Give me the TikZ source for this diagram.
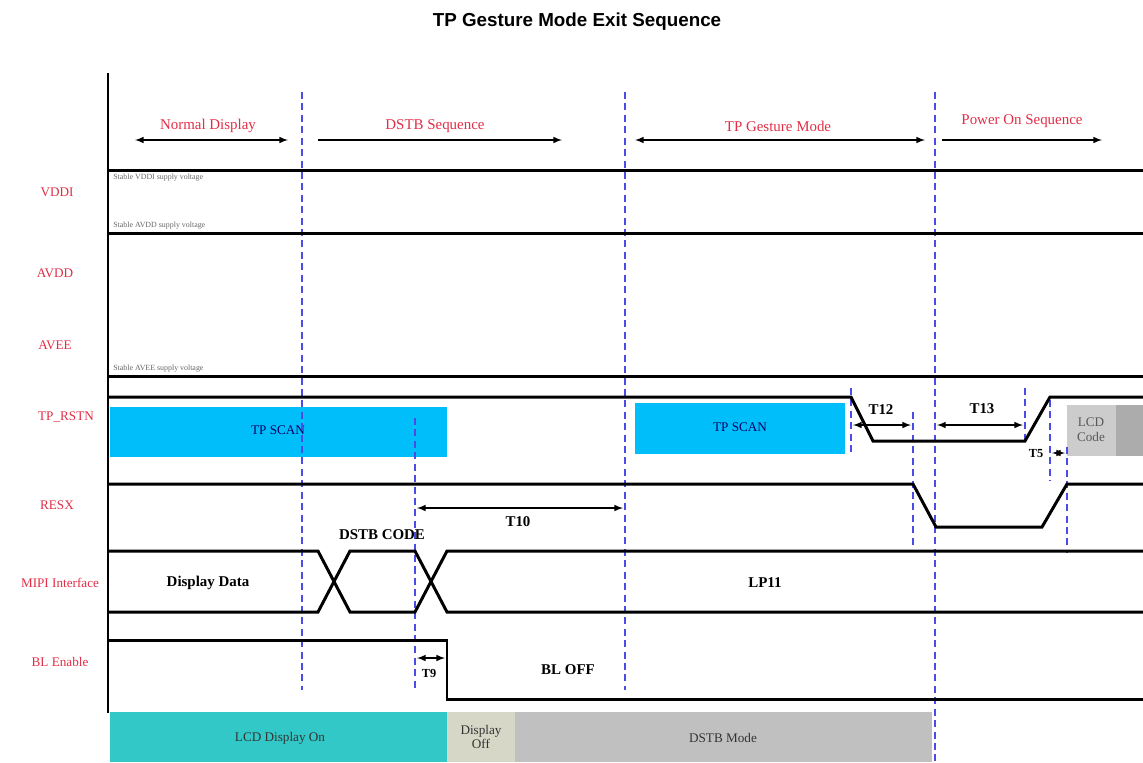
\documentclass[tikz,border=0pt]{standalone}
\usepackage{fontspec}
\setmainfont{Liberation Serif}
\newfontfamily\titlefont{Liberation Sans}
\usetikzlibrary{arrows}
\definecolor{sigred}{RGB}{225,45,70}
\definecolor{scanblue}{RGB}{0,190,250}
\definecolor{dashblue}{RGB}{75,75,232}
\definecolor{lcdteal}{RGB}{50,200,200}
\definecolor{offbeige}{RGB}{215,215,200}
\definecolor{modegray}{RGB}{192,192,192}
\tikzset{
  sig/.style={line width=1.7pt},
  guide/.style={dash pattern=on 4pt off 2.5pt, color=dashblue, line width=0.6pt},
  siglabel/.style={text=sigred, font=\fontsize{7.5}{9}\selectfont},
  phase/.style={text=sigred, font=\fontsize{8.5}{10}\selectfont},
  timing/.style={font=\bfseries\fontsize{8.5}{10}\selectfont},
  supply/.style={text=black!60, font=\fontsize{4.5}{5}\selectfont, anchor=west, inner sep=0pt},
  boxtext/.style={text=black!80, font=\fontsize{7.5}{8.5}\selectfont, align=center},
  span/.style={latex-latex, line width=0.7pt},
}
\begin{document}
\begin{tikzpicture}[x=0.02cm,y=-0.02cm]
\useasboundingbox (0,0) rectangle (1143,762);
\node[font=\titlefont\bfseries\fontsize{10.7}{13}\selectfont] (title) at (577,22) {TP Gesture Mode Exit Sequence};
% bottom state bars
\fill[lcdteal] (110,712) rectangle (447,762);
\fill[offbeige] (447,712) rectangle (515,762);
\fill[modegray] (515,712) rectangle (932,762);
\node[boxtext] (lcdon) at (280,738) {LCD Display On};
\node[boxtext] (dispoff) at (481,737) {Display\\Off};
\node[boxtext] (dstbmode) at (723,738) {DSTB Mode};
% TP scan and LCD code boxes
\fill[scanblue] (110,407) rectangle (447,457);
\fill[scanblue] (635,403) rectangle (845,454);
\fill[gray!40] (1067,405) rectangle (1116,456);
\fill[gray!65] (1116,405) rectangle (1143,456);
\node[boxtext, text=blue!40!black] (scana) at (278,430) {TP SCAN};
\node[boxtext, text=blue!40!black] (scanb) at (740,427) {TP SCAN};
\node[boxtext, text=black!65] (lcdcode) at (1091,430) {LCD\\Code};
% guide lines
\foreach \x/\ya/\yb in {302/92/690, 625/92/690, 935/92/762, 415/418/690, 851/388/452, 913/412/545, 1025/388/443, 1050/400/480, 1067/447/553}
\draw[guide] (\x,\ya) -- (\x,\yb);
% phases
\draw[span] (135,140) -- (288,140);
\draw[-latex, line width=0.7pt] (318,140) -- (562,140);
\draw[span] (635,140) -- (925,140);
\draw[-latex, line width=0.7pt] (942,140) -- (1102,140);
\node[phase] (normal) at (208,126) {Normal Display};
\node[phase] (dstbseq) at (435,126) {DSTB Sequence};
\node[phase] (gesture) at (778,126) {TP Gesture Mode};
\node[phase] (poweron) at (1022,121) {Power On Sequence};
% signal names
\node[siglabel] (vddi) at (57,192) {VDDI};
\node[siglabel] (avdd) at (55,273) {AVDD};
\node[siglabel] (avee) at (55,345) {AVEE};
\node[siglabel] (tprstn) at (66,417) {TP\_RSTN};
\node[siglabel] (resx) at (57,505) {RESX};
\node[siglabel] (mipi) at (60,583) {MIPI Interface};
\node[siglabel] (blen) at (60,662) {BL Enable};
% waveforms
\draw[sig] (108,73) -- (108,713);
\draw[sig] (108,170) -- (1143,170);
\draw[sig] (108,233) -- (1143,233);
\draw[sig] (108,376) -- (1143,376);
\node[supply] (vddinote) at (113,178) {Stable VDDI supply voltage};
\node[supply] (avddnote) at (113,226) {Stable AVDD supply voltage};
\node[supply] (aveenote) at (113,369) {Stable AVEE supply voltage};
\draw[sig] (108,397) -- (851,397) -- (873,441) -- (1025,441) -- (1050,397) -- (1143,397);
\draw[sig] (108,484) -- (913,484) -- (936,527) -- (1042,527) -- (1067,484) -- (1143,484);
\draw[sig] (108,551) -- (318,551) -- (350,612) -- (415,612) -- (447,551) -- (1143,551);
\draw[sig] (108,612) -- (318,612) -- (350,551) -- (415,551) -- (447,612) -- (1143,612);
\draw[sig] (108,640) -- (447,640) -- (447,699) -- (1143,699);
\node[timing] (dstbcode) at (382,535) {DSTB CODE};
\node[timing] (dispdata) at (208,583) {Display Data};
\node[timing] (lp) at (765,583) {LP11};
\node[timing] (bloff) at (568,670) {BL OFF};
% timings
\draw[span] (853,425) -- (911,425);
\draw[span] (937,425) -- (1023,425);
\draw[span] (1052,453) -- (1065,453);
\draw[span] (417,508) -- (623,508);
\draw[span] (417,658) -- (445,658);
\node[timing] (tdouze) at (881,410) {T12};
\node[timing] (ttreize) at (982,409) {T13};
\node[timing, font=\bfseries\fontsize{7}{8}\selectfont] (tcinq) at (1036,454) {T5};
\node[timing] (tdix) at (518,522) {T10};
\node[timing, font=\bfseries\fontsize{7}{8}\selectfont] (tneuf) at (429,673) {T9};
\end{tikzpicture}
\end{document}
